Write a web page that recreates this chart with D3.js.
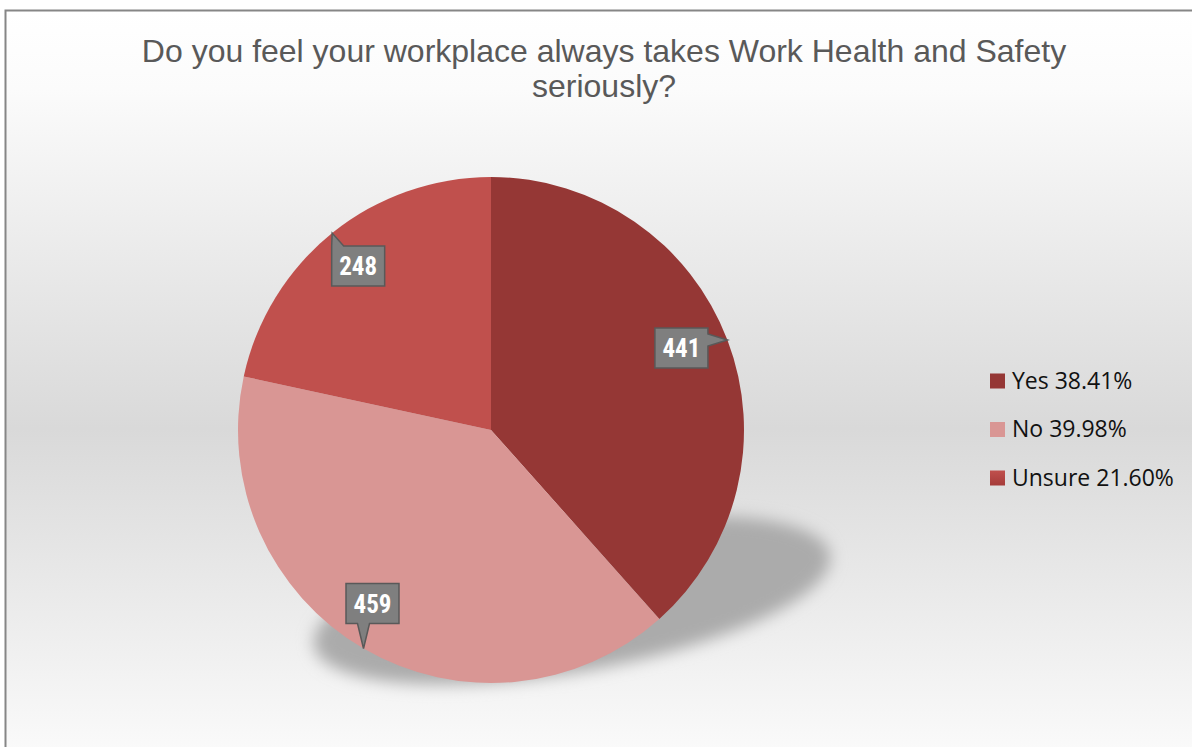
<!DOCTYPE html>
<html><head><meta charset="utf-8">
<script src="https://cdn.jsdelivr.net/npm/d3@7"></script>
<style>html,body{margin:0;padding:0;background:#fff;overflow:hidden}</style>
</head><body>
<script>
const categories = ["Yes", "No", "Unsure"];
const counts = [441, 459, 248];
const percentLabels = ["38.41%", "39.98%", "21.60%"];
const titleLines = ["Do you feel your workplace always takes Work Health and Safety", "seriously?"];

const W = 1192, H = 747;
const cx = 491, cy = 430, R = 253;
const colors = ["#953735", "#d99694", "url(#gUnsure)"];
const legendColors = ["#953735", "#d99694", "url(#gUnsureL)"];
const calloutOffsets = [[-46, 8], [9, -45], [26, 33]];

const svg = d3.select("body").append("svg").attr("width", W).attr("height", H);
const defs = svg.append("defs");
const bg = defs.append("linearGradient").attr("id", "bg").attr("gradientUnits", "userSpaceOnUse")
  .attr("x1", 0).attr("y1", 10).attr("x2", 0).attr("y2", 800);
bg.append("stop").attr("offset", 0).attr("stop-color", "#ffffff");
bg.append("stop").attr("offset", 0.1).attr("stop-color", "#fbfbfb");
bg.append("stop").attr("offset", 0.53).attr("stop-color", "#d9d9d9");
bg.append("stop").attr("offset", 1).attr("stop-color", "#ffffff");
const gu = defs.append("linearGradient").attr("id", "gUnsure").attr("gradientUnits", "userSpaceOnUse")
  .attr("x1", 0).attr("y1", cy - R).attr("x2", 0).attr("y2", cy);
gu.append("stop").attr("offset", 0).attr("stop-color", "#c0504d");
gu.append("stop").attr("offset", 1).attr("stop-color", "#a53b39");
const gl = defs.append("linearGradient").attr("id", "gUnsureL").attr("x1", 0).attr("y1", 0).attr("x2", 0).attr("y2", 1);
gl.append("stop").attr("offset", 0).attr("stop-color", "#c0504d");
gl.append("stop").attr("offset", 1).attr("stop-color", "#a53b39");
const blur = defs.append("filter").attr("id", "blur").attr("x", "-20%").attr("y", "-50%").attr("width", "140%").attr("height", "200%");
blur.append("feGaussianBlur").attr("stdDeviation", 8);

svg.append("rect").attr("x", 5.5).attr("y", 10.5).attr("width", 1300).attr("height", 900)
  .attr("fill", "url(#bg)").attr("stroke", "#868686").attr("stroke-width", 2);

// title
const title = svg.append("text").attr("text-anchor", "middle")
  .attr("font-family", "Liberation Sans, Arial, sans-serif").attr("font-size", 32).attr("fill", "#595959");
titleLines.forEach((t, i) => title.append("tspan").attr("x", 604).attr("y", 62 + i * 35).text(t));

// shadow
svg.append("ellipse").attr("cx", 0).attr("cy", 0).attr("rx", 262).attr("ry", 72)
  .attr("transform", `translate(572,600) rotate(-10)`)
  .attr("fill", "#ababab").attr("filter", "url(#blur)");

// pie
const pie = d3.pie().sort(null).value(d => d)(counts);
const arc = d3.arc().innerRadius(0).outerRadius(R);
const g = svg.append("g").attr("transform", `translate(${cx},${cy})`);
g.selectAll("path").data(pie).join("path").attr("d", arc).attr("fill", (d, i) => colors[i]);

// callouts
const bw = 53, bh = 40, hw = 6;
pie.forEach((d, i) => {
  const a = (d.startAngle + d.endAngle) / 2;
  const tx = cx + R * Math.sin(a), ty = cy - R * Math.cos(a);
  const bxc = tx + calloutOffsets[i][0], byc = ty + calloutOffsets[i][1];
  const x0 = bxc - bw / 2, x1 = bxc + bw / 2, y0 = byc - bh / 2, y1 = byc + bh / 2;
  let pts;
  if (tx > x1) { const c = Math.max(y0 + hw, Math.min(y1 - hw, ty));
    pts = [[x0, y0], [x1, y0], [x1, c - hw], [tx, ty], [x1, c + hw], [x1, y1], [x0, y1]]; }
  else if (ty < y0) { const c = Math.max(x0 + hw, Math.min(x1 - hw, tx));
    pts = [[x0, y0], [c - hw, y0], [tx, ty], [c + hw, y0], [x1, y0], [x1, y1], [x0, y1]]; }
  else if (ty > y1) { const c = Math.max(x0 + hw, Math.min(x1 - hw, tx));
    pts = [[x0, y0], [x1, y0], [x1, y1], [c + hw, y1], [tx, ty], [c - hw, y1], [x0, y1]]; }
  else { const c = Math.max(y0 + hw, Math.min(y1 - hw, ty));
    pts = [[x0, y0], [x1, y0], [x1, y1], [x0, y1], [x0, c + hw], [tx, ty], [x0, c - hw]]; }
  svg.append("path").attr("d", d3.line()(pts) + "Z")
    .attr("fill", "#7f7f7f").attr("stroke", "#595959").attr("stroke-width", 1.5).attr("stroke-linejoin", "miter");
  svg.append("text").attr("x", bxc).attr("y", byc + 9).attr("text-anchor", "middle")
    .attr("font-family", "Liberation Sans Narrow, Arial Narrow, Roboto Condensed, sans-serif")
    .attr("font-weight", "bold").attr("font-size", 25).attr("fill", "#ffffff").text(counts[i]);
});

// legend
const lg = svg.append("g");
categories.forEach((c, i) => {
  const y = 381 + i * 48.5;
  lg.append("rect").attr("x", 990).attr("y", y - 7.5).attr("width", 15).attr("height", 15).attr("fill", legendColors[i]);
  lg.append("text").attr("x", 1012).attr("y", y + 7.5)
    .attr("font-family", "Open Sans, Noto Sans, sans-serif").attr("font-size", 23).attr("fill", "#111")
    .text(`${c} ${percentLabels[i]}`);
});
</script>
</body></html>
